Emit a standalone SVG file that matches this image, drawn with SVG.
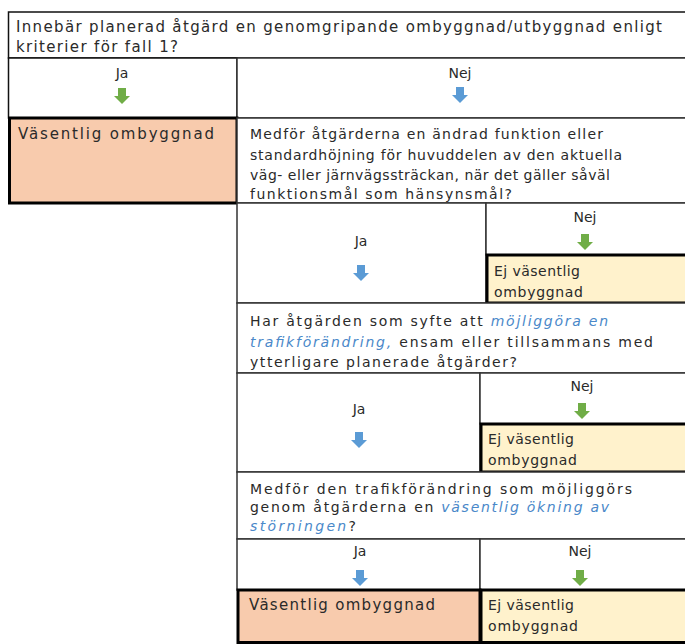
<svg xmlns="http://www.w3.org/2000/svg" width="685" height="644" viewBox="0 0 685 644">
<style>
text{font-family:"DejaVu Sans","Verdana",sans-serif;font-size:14px;fill:#2a2a2a}
.big{font-size:15px}
.c{text-anchor:middle}
.em{fill:#4a88c9;font-style:italic}
.cell{fill:#fff;stroke:#333;stroke-width:1.5}
.res1{fill:#f8cbad;stroke:#000;stroke-width:3}
.res2{fill:#fff2cc;stroke:#000;stroke-width:3}
</style>
<defs>
<path id="arr" d="M-4,0 H4 V8 H8 L0,16 L-8,8 H-4 Z"/>
</defs>
<rect width="685" height="644" fill="#fff"/>
<g id="q0">
<rect class="cell" x="8.5" y="12" width="680" height="46" style="stroke:#111"/>
<text class="big" x="16" y="32" textLength="646" lengthAdjust="spacing">Innebär planerad åtgärd en genomgripande ombyggnad/utbyggnad enligt</text>
<text class="big" x="16" y="52" textLength="162" lengthAdjust="spacing">kriterier för fall 1?</text>
</g>
<g id="r0ja">
<rect class="cell" x="8.5" y="58" width="228.5" height="60" style="stroke:#111"/>
<text class="c" x="122" y="78">Ja</text>
</g>
<g id="r0nej">
<rect class="cell" x="237" y="58" width="451" height="60"/>
<text class="c" x="460" y="78">Nej</text>
</g>
<g id="res0">
<rect class="res1" x="9.5" y="118" width="227.5" height="85"/>
<text class="big" x="18" y="139" textLength="196" lengthAdjust="spacing">Väsentlig ombyggnad</text>
</g>
<g id="q1">
<rect class="cell" x="237" y="118" width="451" height="85"/>
<text x="250" y="139" textLength="353" lengthAdjust="spacing">Medför åtgärderna en ändrad funktion eller</text>
<text x="250" y="160" textLength="372" lengthAdjust="spacing">standardhöjning för huvuddelen av den aktuella</text>
<text x="250" y="180" textLength="360" lengthAdjust="spacing">väg- eller järnvägssträckan, när det gäller såväl</text>
<text x="250" y="199" textLength="262" lengthAdjust="spacing">funktionsmål som hänsynsmål?</text>
</g>
<g id="r1ja">
<rect class="cell" x="237" y="203" width="249" height="100"/>
<text class="c" x="361" y="246">Ja</text>
</g>
<g id="r1nej">
<rect class="cell" x="486" y="203" width="202" height="52"/>
<text class="c" x="585" y="222">Nej</text>
</g>
<g id="res1">
<rect class="res2" x="487" y="255" width="201" height="48"/>
<text x="494" y="276" textLength="86" lengthAdjust="spacing">Ej väsentlig</text>
<text x="494" y="297" textLength="89" lengthAdjust="spacing">ombyggnad</text>
</g>
<g id="q2">
<rect class="cell" x="237" y="303" width="451" height="70"/>
<text x="250" y="326" textLength="358" lengthAdjust="spacing">Har åtgärden som syfte att <tspan class="em">möjliggöra en</tspan></text>
<text x="250" y="347" textLength="403" lengthAdjust="spacing"><tspan class="em">trafikförändring,</tspan> ensam eller tillsammans med</text>
<text x="250" y="367" textLength="267" lengthAdjust="spacing">ytterligare planerade åtgärder?</text>
</g>
<g id="r2ja">
<rect class="cell" x="237" y="373" width="243" height="99"/>
<text class="c" x="359" y="414">Ja</text>
</g>
<g id="r2nej">
<rect class="cell" x="480" y="373" width="208" height="51"/>
<text class="c" x="582" y="391">Nej</text>
</g>
<g id="res2">
<rect class="res2" x="481" y="424" width="207" height="48"/>
<text x="488" y="444" textLength="86" lengthAdjust="spacing">Ej väsentlig</text>
<text x="488" y="465" textLength="89" lengthAdjust="spacing">ombyggnad</text>
</g>
<g id="q3">
<rect class="cell" x="237" y="472" width="451" height="67"/>
<text x="250" y="494" textLength="382" lengthAdjust="spacing">Medför den trafikförändring som möjliggörs</text>
<text x="250" y="512" textLength="359" lengthAdjust="spacing">genom åtgärderna en <tspan class="em">väsentlig ökning av</tspan></text>
<text x="250" y="531" textLength="106" lengthAdjust="spacing"><tspan class="em">störningen</tspan>?</text>
</g>
<g id="r3ja">
<rect class="cell" x="237" y="539" width="243" height="51"/>
<text class="c" x="360" y="556">Ja</text>
</g>
<g id="r3nej">
<rect class="cell" x="480" y="539" width="208" height="51"/>
<text class="c" x="580" y="556">Nej</text>
</g>
<g id="res3a">
<rect class="res1" x="238" y="590" width="242" height="52.5"/>
<text class="big" x="249" y="610" textLength="186" lengthAdjust="spacing">Väsentlig ombyggnad</text>
</g>
<g id="res3b">
<rect class="res2" x="481" y="590" width="207" height="52.5"/>
<text x="488" y="610" textLength="86" lengthAdjust="spacing">Ej väsentlig</text>
<text x="488" y="631" textLength="90" lengthAdjust="spacing">ombyggnad</text>
</g>
<g id="connectors">
<use href="#arr" x="122" y="88" fill="#70ad47"/>
<use href="#arr" x="460" y="87" fill="#5b9bd5"/>
<use href="#arr" x="361" y="265" fill="#5b9bd5"/>
<use href="#arr" x="585" y="234" fill="#70ad47"/>
<use href="#arr" x="359" y="432" fill="#5b9bd5"/>
<use href="#arr" x="582" y="403" fill="#70ad47"/>
<use href="#arr" x="360" y="570" fill="#5b9bd5"/>
<use href="#arr" x="580" y="570" fill="#70ad47"/>
</g>
</svg>
